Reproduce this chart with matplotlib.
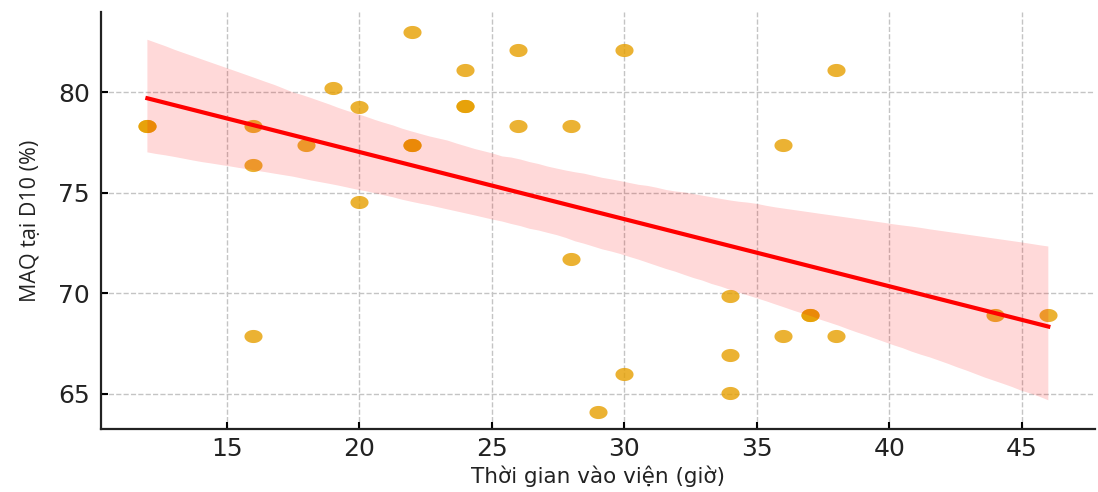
import numpy as np
import matplotlib
matplotlib.use("Agg")
import matplotlib.pyplot as plt
import seaborn as sns
from matplotlib.path import Path

# Thời gian vào viện (giờ) và MAQ tại D10 (%)
gio = [12, 12, 16, 16, 16, 18, 19, 20, 20, 22, 22, 22, 24, 24, 24,
       26, 26, 28, 28, 29, 30, 30, 34, 34, 34, 36, 36, 37, 37, 38, 38, 44, 46]
maq = [78.3, 78.3, 78.3, 76.4, 67.9, 77.4, 80.2, 79.25, 74.55, 83.0, 77.4, 77.4, 81.1, 79.3, 79.3,
       82.1, 78.3, 78.3, 71.7, 64.1, 82.1, 66.0, 69.85, 66.95, 65.05, 77.4, 67.9, 68.9, 68.9, 81.1, 67.9, 68.9, 68.9]

x_ticks = [15, 20, 25, 30, 35, 40, 45]
y_ticks = [65, 70, 75, 80]

# marker hơi dẹt giống ảnh gốc
t = np.linspace(0, 2 * np.pi, 60)
ellipse = Path(np.column_stack([1.38 * np.cos(t), np.sin(t)]), closed=True)

fig = plt.figure(figsize=(10.98, 4.92), dpi=100)
ax = fig.add_axes([0.092, 0.128, 0.905, 0.848])

sns.regplot(x=np.array(gio), y=np.array(maq), ax=ax, ci=95, seed=3,
            marker=ellipse,
            scatter_kws={'color': '#E69F00', 'alpha': 0.8, 's': 170, 'linewidths': 0},
            line_kws={'color': 'red', 'linewidth': 3})

ax.set_xlim(10.25, 47.75)
ax.set_ylim(63.25, 84.0)
ax.set_xticks(x_ticks)
ax.set_yticks(y_ticks)
ax.tick_params(direction='in', length=5, width=1.5, labelsize=18, pad=8,
               labelcolor='#222222')
ax.tick_params(axis='x', pad=6)

ax.grid(True, linestyle='--', color='#c4c4c4', linewidth=1)
ax.set_axisbelow(True)
for s in ['top', 'right']:
    ax.spines[s].set_visible(False)
for s in ['left', 'bottom']:
    ax.spines[s].set_linewidth(1.6)
    ax.spines[s].set_color('#222222')

ax.set_xlabel('Thời gian vào viện (giờ)', fontsize=15.5, color='#222222', labelpad=3)
ax.set_ylabel('MAQ tại D10 (%)', fontsize=15.5, family=['Open Sans', 'DejaVu Sans'],
              color='#222222', labelpad=12)

plt.savefig('out.png', dpi=100)
